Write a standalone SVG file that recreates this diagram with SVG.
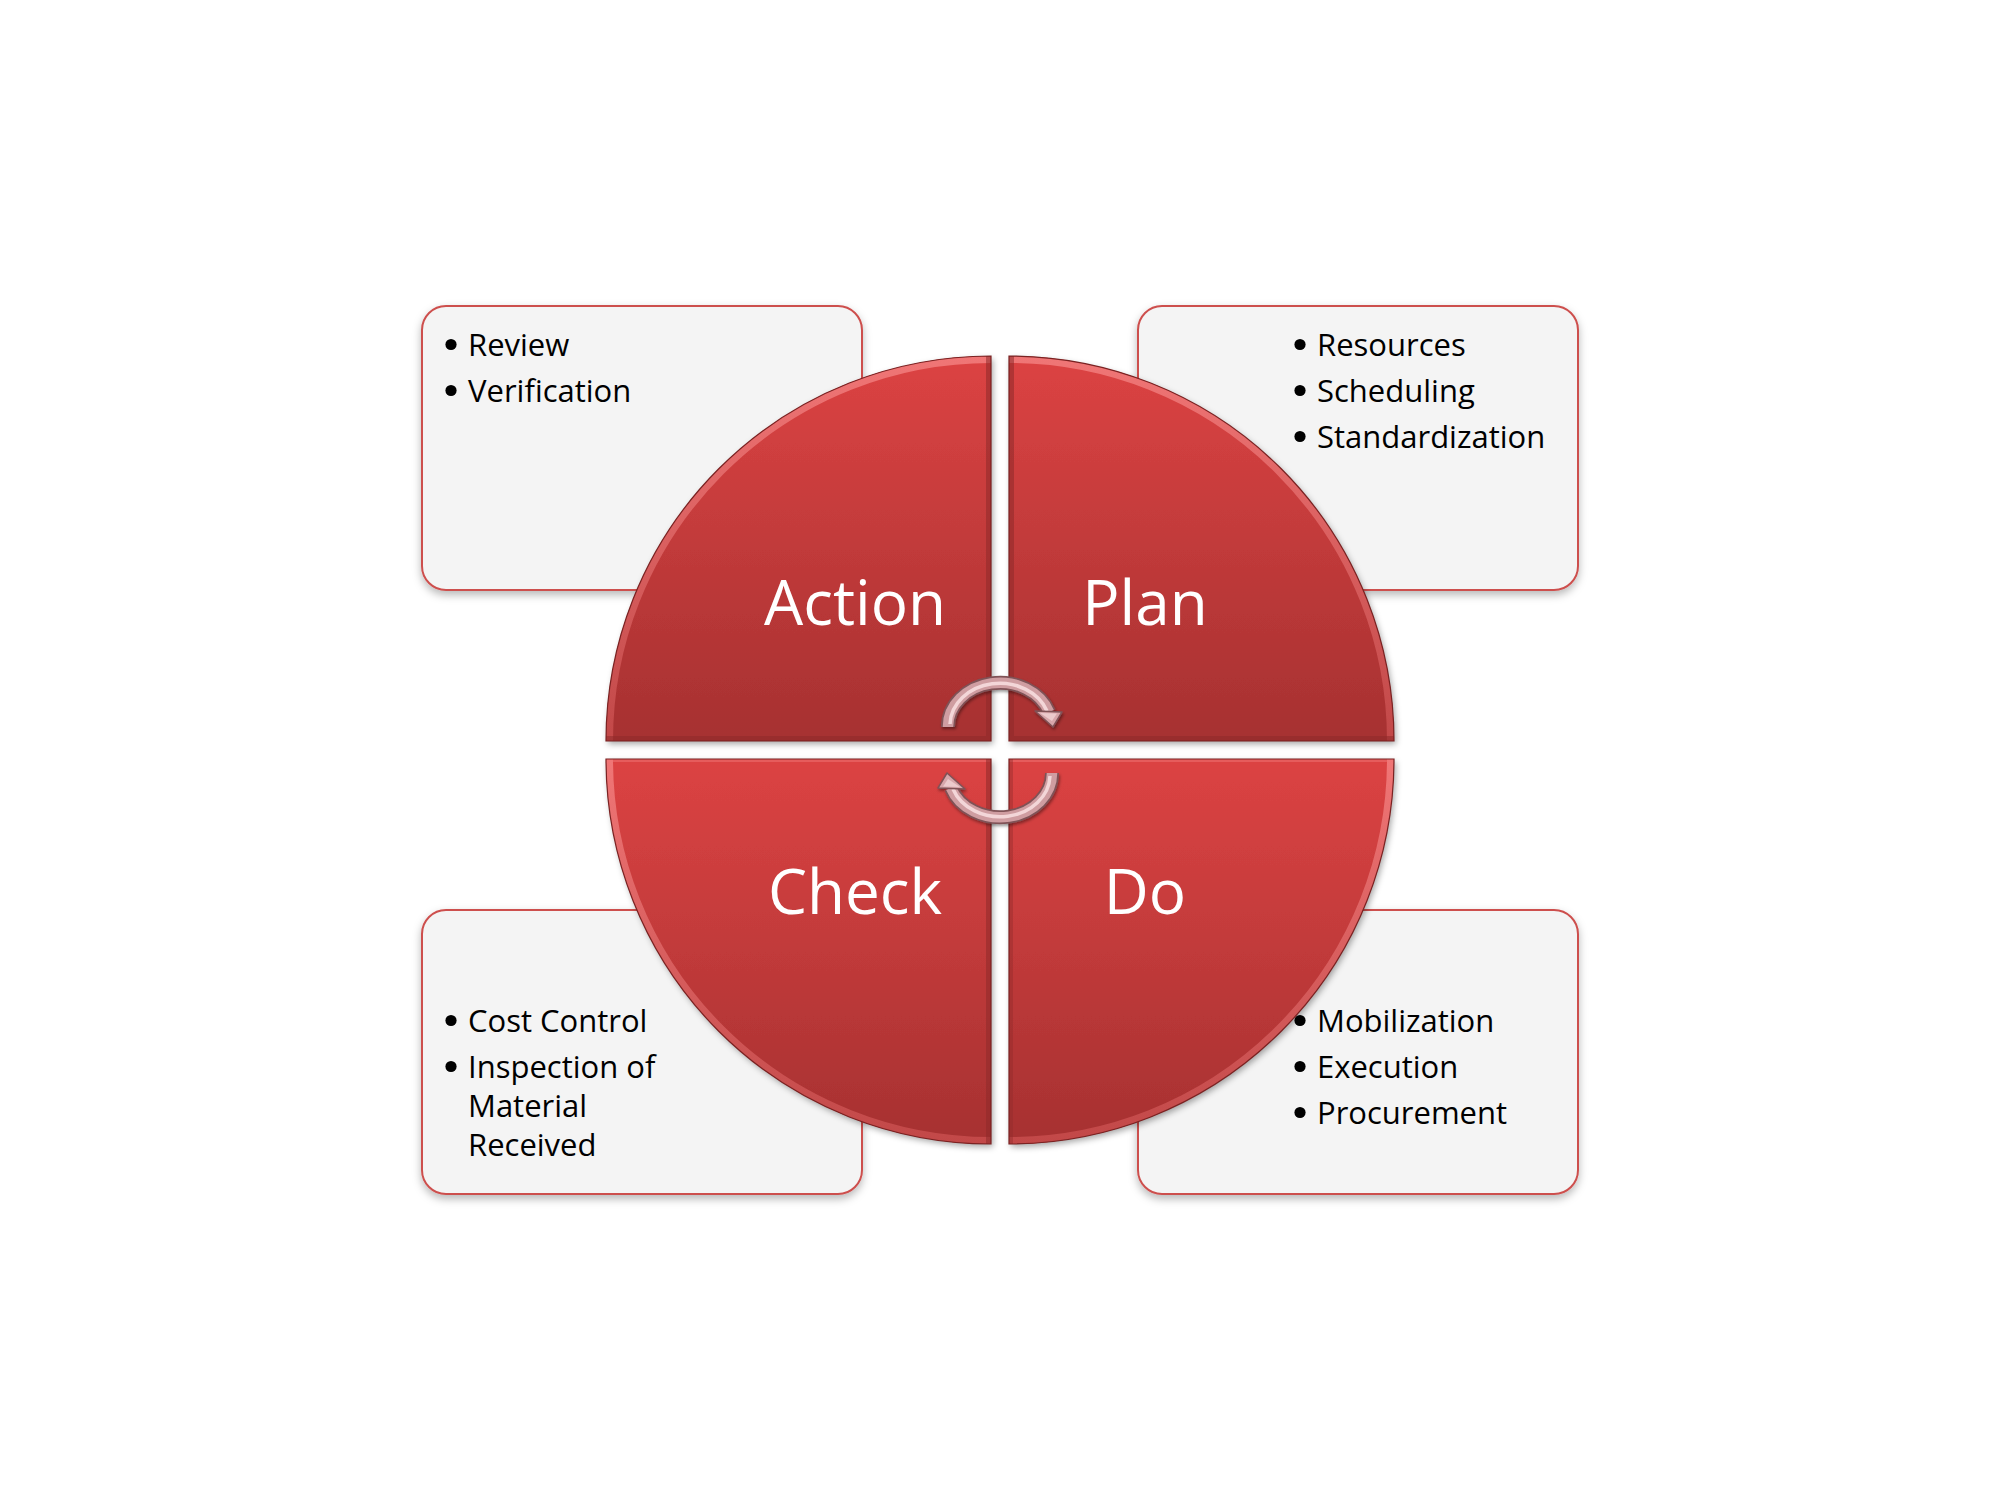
<svg xmlns="http://www.w3.org/2000/svg" xmlns:xlink="http://www.w3.org/1999/xlink" width="2000" height="1500" viewBox="0 0 2000 1500">
<style>
.box{fill:#f4f4f4;stroke:#cd4f4d;stroke-width:2}
.item{font-family:"Open Sans","Liberation Sans",sans-serif;font-size:31px;fill:#000}
.label{font-family:"Open Sans","Liberation Sans",sans-serif;font-size:62px;fill:#fff;text-anchor:middle}
.dot{fill:#000}
.qedge{fill:none;stroke:#7a2222;stroke-width:1.2}
</style>
<defs>
<filter id="boxShadow" x="-10%" y="-10%" width="120%" height="130%">
<feDropShadow dx="0" dy="4" stdDeviation="4" flood-color="#000" flood-opacity="0.28"/>
</filter>
<filter id="qShadow" x="-10%" y="-10%" width="125%" height="125%">
<feDropShadow dx="2" dy="3" stdDeviation="3" flood-color="#000" flood-opacity="0.35"/>
</filter>
<filter id="aShadow" x="-20%" y="-20%" width="140%" height="150%">
<feDropShadow dx="1" dy="2" stdDeviation="1.5" flood-color="#000" flood-opacity="0.4"/>
</filter>
<linearGradient id="gTop" gradientUnits="userSpaceOnUse" x1="0" y1="356" x2="0" y2="741">
<stop offset="0" stop-color="#dc4343"/>
<stop offset="1" stop-color="#a63131"/>
</linearGradient>
<linearGradient id="gBot" gradientUnits="userSpaceOnUse" x1="0" y1="759" x2="0" y2="1144">
<stop offset="0" stop-color="#dc4343"/>
<stop offset="1" stop-color="#a63131"/>
</linearGradient>
<linearGradient id="bTop" gradientUnits="userSpaceOnUse" x1="0" y1="356" x2="0" y2="741">
<stop offset="0" stop-color="#f07676"/>
<stop offset="1" stop-color="#c24848"/>
</linearGradient>
<linearGradient id="bBot" gradientUnits="userSpaceOnUse" x1="0" y1="759" x2="0" y2="1144">
<stop offset="0" stop-color="#f07676"/>
<stop offset="1" stop-color="#c24848"/>
</linearGradient>
<path id="qA" d="M991 741 L606 741 A385 385 0 0 1 991 356 Z"/>
<path id="qP" d="M1009 741 L1009 356 A385 385 0 0 1 1394 741 Z"/>
<path id="qC" d="M991 759 L991 1144 A385 385 0 0 1 606 759 Z"/>
<path id="qD" d="M1009 759 L1394 759 A385 385 0 0 1 1009 1144 Z"/>
<clipPath id="cA"><use xlink:href="#qA"/></clipPath>
<clipPath id="cP"><use xlink:href="#qP"/></clipPath>
<clipPath id="cC"><use xlink:href="#qC"/></clipPath>
<clipPath id="cD"><use xlink:href="#qD"/></clipPath>
<g id="arrow">
<path d="M948 727 A52 44 0 0 1 1049 712" fill="none" stroke="#7f5257" stroke-width="14"/>
<path d="M948 727 A52 44 0 0 1 1049 712" fill="none" stroke="#cf9da1" stroke-width="10.5"/>
<path d="M950 724 A50 42 0 0 1 1047 711" fill="none" stroke="#f3d6d8" stroke-width="3.5"/>
<polygon points="1035,711 1062,712 1053,727" fill="#d7a6aa" stroke="#7f5257" stroke-width="1.5" stroke-linejoin="round"/>
<polygon points="1040,713 1057,713.5 1052,721" fill="#eccacc"/>
</g>
</defs>

<rect width="2000" height="1500" fill="#fff"/>

<g id="box-action">
<rect class="box" x="422" y="306" width="440" height="284" rx="24" filter="url(#boxShadow)"/>
<circle class="dot" cx="451" cy="344.5" r="5.6"/>
<text class="item" x="468" y="356">Review</text>
<circle class="dot" cx="451" cy="390.5" r="5.6"/>
<text class="item" x="468" y="402">Verification</text>
</g>

<g id="box-plan">
<rect class="box" x="1138" y="306" width="440" height="284" rx="24" filter="url(#boxShadow)"/>
<circle class="dot" cx="1300" cy="344.5" r="5.6"/>
<text class="item" x="1317" y="356">Resources</text>
<circle class="dot" cx="1300" cy="390.5" r="5.6"/>
<text class="item" x="1317" y="402">Scheduling</text>
<circle class="dot" cx="1300" cy="436.5" r="5.6"/>
<text class="item" x="1317" y="448">Standardization</text>
</g>

<g id="box-check">
<rect class="box" x="422" y="910" width="440" height="284" rx="24" filter="url(#boxShadow)"/>
<circle class="dot" cx="451" cy="1020.5" r="5.6"/>
<text class="item" x="468" y="1032">Cost Control</text>
<circle class="dot" cx="451" cy="1066.5" r="5.6"/>
<text class="item" x="468" y="1078">Inspection of</text>
<text class="item" x="468" y="1117">Material</text>
<text class="item" x="468" y="1156">Received</text>
</g>

<g id="box-do">
<rect class="box" x="1138" y="910" width="440" height="284" rx="24" filter="url(#boxShadow)"/>
<circle class="dot" cx="1300" cy="1020.5" r="5.6"/>
<text class="item" x="1317" y="1032">Mobilization</text>
<circle class="dot" cx="1300" cy="1066.5" r="5.6"/>
<text class="item" x="1317" y="1078">Execution</text>
<circle class="dot" cx="1300" cy="1112.5" r="5.6"/>
<text class="item" x="1317" y="1124">Procurement</text>
</g>

<g id="quad-action">
<use xlink:href="#qA" fill="url(#gTop)" filter="url(#qShadow)"/>
<g clip-path="url(#cA)">
<path d="M606 741 A385 385 0 0 1 991 356" fill="none" stroke="url(#bTop)" stroke-width="14"/>
<path d="M991 356 L991 741 L606 741" fill="none" stroke="#8e2a2a" stroke-width="10" opacity="0.55"/>
</g>
<use xlink:href="#qA" class="qedge"/>
<text class="label" x="855" y="625">Action</text>
</g>

<g id="quad-plan">
<use xlink:href="#qP" fill="url(#gTop)" filter="url(#qShadow)"/>
<g clip-path="url(#cP)">
<path d="M1009 356 A385 385 0 0 1 1394 741" fill="none" stroke="url(#bTop)" stroke-width="14"/>
<path d="M1009 356 L1009 741 L1394 741" fill="none" stroke="#8e2a2a" stroke-width="10" opacity="0.55"/>
</g>
<use xlink:href="#qP" class="qedge"/>
<text class="label" x="1145" y="625">Plan</text>
</g>

<g id="quad-check">
<use xlink:href="#qC" fill="url(#gBot)" filter="url(#qShadow)"/>
<g clip-path="url(#cC)">
<path d="M991 1144 A385 385 0 0 1 606 759" fill="none" stroke="url(#bBot)" stroke-width="14"/>
<path d="M606 759 L991 759" fill="none" stroke="#f07676" stroke-width="6" opacity="0.5"/>
<path d="M991 759 L991 1144" fill="none" stroke="#8e2a2a" stroke-width="10" opacity="0.55"/>
</g>
<use xlink:href="#qC" class="qedge"/>
<text class="label" x="855" y="914">Check</text>
</g>

<g id="quad-do">
<use xlink:href="#qD" fill="url(#gBot)" filter="url(#qShadow)"/>
<g clip-path="url(#cD)">
<path d="M1394 759 A385 385 0 0 1 1009 1144" fill="none" stroke="url(#bBot)" stroke-width="14"/>
<path d="M1009 759 L1394 759" fill="none" stroke="#f07676" stroke-width="6" opacity="0.5"/>
<path d="M1009 759 L1009 1144" fill="none" stroke="#8e2a2a" stroke-width="8" opacity="0.4"/>
</g>
<use xlink:href="#qD" class="qedge"/>
<text class="label" x="1145" y="914">Do</text>
</g>

<g id="connectors" filter="url(#aShadow)">
<use xlink:href="#arrow"/>
<use xlink:href="#arrow" transform="rotate(180 1000 750)"/>
</g>
</svg>
